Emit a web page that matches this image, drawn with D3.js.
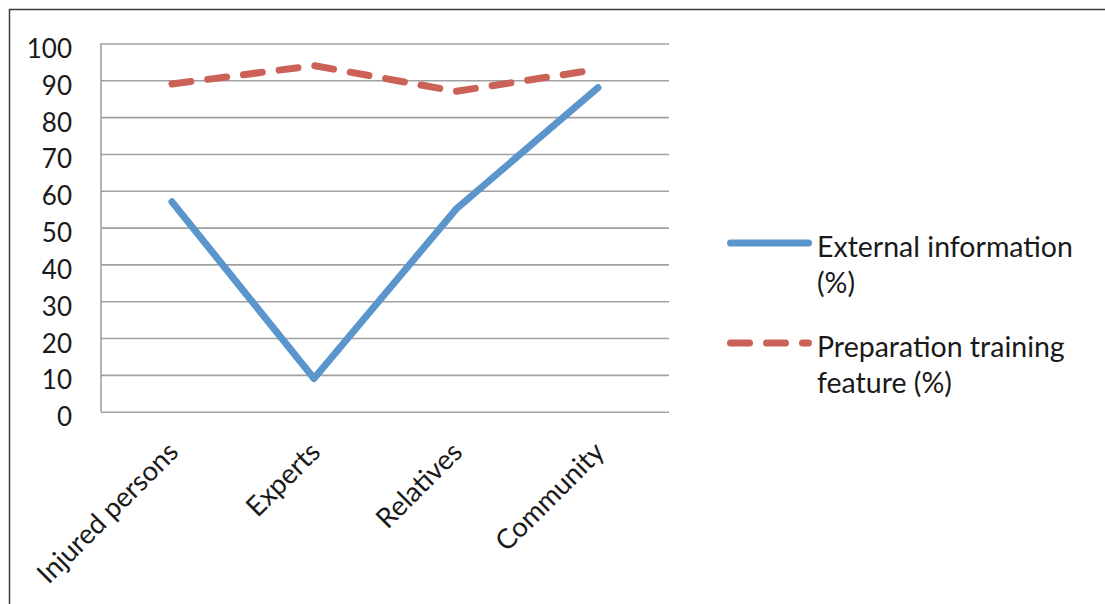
<!DOCTYPE html>
<html>
<head>
<meta charset="utf-8">
<script src="https://cdn.jsdelivr.net/npm/d3@7"></script>
<style>
  html, body { margin: 0; padding: 0; background: #fff; }
  svg { display: block; }
  text { font-family: Lato, "Liberation Sans", sans-serif; fill: #1a1a1a; }
</style>
</head>
<body>
<svg id="chart" width="1105" height="604"></svg>
<script>
// ---- data ----
const categories = ["Injured persons", "Experts", "Relatives", "Community"];
const externalInfo = [57, 9, 55, 88];
const prepTraining = [89, 94, 87, 93];
const yTicks = [0, 10, 20, 30, 40, 50, 60, 70, 80, 90, 100];
const seriesNames = [["External information", "(%)"], ["Preparation training", "feature (%)"]];

// ---- layout ----
const W = 1105, H = 604;
const plot = { left: 101, right: 669, top: 43.5, bottom: 411.7 };
const blue = "#5a95cc", red = "#cc6158";

const svg = d3.select("#chart");
svg.append("rect").attr("width", W).attr("height", H).attr("fill", "#fff");

// outer frame (top and left edges)
svg.append("path")
  .attr("d", `M9.5,${H} L9.5,9.5 L${W},9.5`)
  .attr("fill", "none").attr("stroke", "#3c3c3c").attr("stroke-width", 1.5);

const x = d3.scaleBand().domain(categories).range([plot.left, plot.right]).padding(0);
const cx = c => x(c) + x.bandwidth() / 2;
const y = d3.scaleLinear().domain([0, 100]).range([plot.bottom, plot.top]);

// gridlines + y labels
const yAxis = svg.append("g")
  .attr("transform", `translate(${plot.left},0)`)
  .call(d3.axisLeft(y).tickValues(yTicks).tickSize(-(plot.right - plot.left)).tickPadding(29).tickFormat(d3.format("d")));
yAxis.select(".domain").remove();
yAxis.selectAll(".tick line").attr("stroke", "#a0a0a0").attr("stroke-width", 1.6);
yAxis.selectAll(".tick text")
  .attr("dy", 14)
  .style("font-size", "26px")
  .style("font-family", "Lato, 'Liberation Sans', sans-serif")
  .attr("fill", "#1a1a1a");

// vertical axis line
svg.append("line")
  .attr("x1", plot.left).attr("x2", plot.left)
  .attr("y1", plot.top).attr("y2", plot.bottom)
  .attr("stroke", "#a0a0a0").attr("stroke-width", 1.6);

// category labels
const xAxis = svg.append("g")
  .attr("transform", `translate(0,${plot.bottom})`)
  .call(d3.axisBottom(x).tickSize(0).tickPadding(0));
xAxis.select(".domain").remove();
xAxis.selectAll(".tick text")
  .attr("text-anchor", "end")
  .attr("x", 0).attr("y", 0).attr("dy", 0)
  .attr("transform", "translate(8,42) rotate(-45)")
  .style("font-size", "27.5px")
  .style("font-family", "Lato, 'Liberation Sans', sans-serif")
  .attr("fill", "#1a1a1a");

// lines
const line = d3.line().x((d, i) => cx(categories[i])).y(d => y(d));

svg.append("path")
  .datum(externalInfo)
  .attr("d", line)
  .attr("fill", "none").attr("stroke", blue).attr("stroke-width", 7)
  .attr("stroke-linejoin", "round").attr("stroke-linecap", "round");

svg.append("path")
  .datum(prepTraining)
  .attr("d", line)
  .attr("fill", "none").attr("stroke", red).attr("stroke-width", 7)
  .attr("stroke-dasharray", "19,17")
  .attr("stroke-linejoin", "round").attr("stroke-linecap", "round");

// legend
const legend = svg.append("g");
const items = [
  { name: seriesNames[0], color: blue, dash: null, ly: 243, ty: 257 },
  { name: seriesNames[1], color: red, dash: "19,17", ly: 343, ty: 357 }
];
items.forEach(it => {
  legend.append("line")
    .attr("x1", 730.5).attr("x2", 808.5).attr("y1", it.ly).attr("y2", it.ly)
    .attr("stroke", it.color).attr("stroke-width", 7)
    .attr("stroke-linecap", "round")
    .attr("stroke-dasharray", it.dash);
  const t = legend.append("text")
    .attr("x", 817).attr("y", it.ty)
    .style("font-size", "28.5px");
  it.name.forEach((s, i) => {
    t.append("tspan").attr("x", 817).attr("dy", i === 0 ? 0 : 35.5).text(s);
  });
});
</script>
</body>
</html>
